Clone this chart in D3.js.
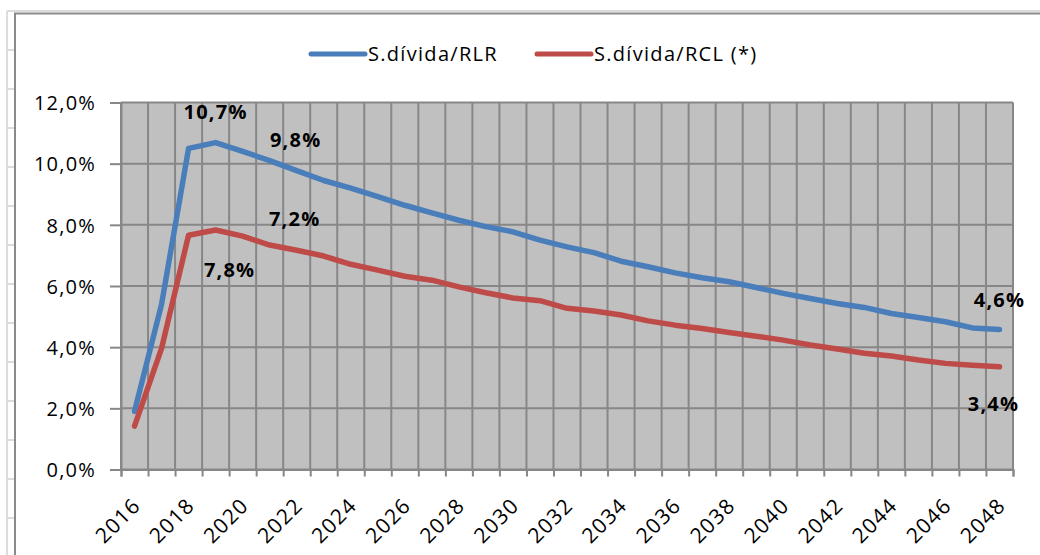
<!DOCTYPE html>
<html><head><meta charset="utf-8">
<script src="https://cdn.jsdelivr.net/npm/d3@7"></script>
<style>body{margin:0;background:#fff;}svg{display:block;}</style>
</head><body>
<svg id="c" width="1040" height="555"></svg>
<script>
const years = d3.range(2016, 2049);
const rlr = [1.9, 5.4, 10.5, 10.69, 10.4, 10.1, 9.77, 9.45, 9.2, 8.92, 8.64, 8.39, 8.15, 7.94, 7.77, 7.5, 7.28, 7.09, 6.81, 6.63, 6.43, 6.27, 6.14, 5.95, 5.76, 5.59, 5.43, 5.3, 5.1, 4.97, 4.83, 4.63, 4.58];
const rcl = [1.42, 3.96, 7.66, 7.83, 7.63, 7.34, 7.17, 6.98, 6.71, 6.52, 6.32, 6.19, 5.97, 5.78, 5.61, 5.52, 5.27, 5.18, 5.05, 4.86, 4.72, 4.61, 4.48, 4.36, 4.23, 4.07, 3.94, 3.8, 3.71, 3.58, 3.47, 3.41, 3.36];
const seriesNames = ["S.dívida/RLR", "S.dívida/RCL (*)"];
const yTicks = [0, 2, 4, 6, 8, 10, 12];
const xLabelYears = d3.range(2016, 2049, 2);

const colors = ["#4a7ebb", "#be4b48"];
const svg = d3.select("#c");
const L = 121, R = 1013, T = 102.5, B = 469.5;
const grid = "#878787";
const font = "'Open Sans', sans-serif";

// surroundings (spreadsheet edge)
svg.append("line").attr("x1", 7).attr("x2", 1040).attr("y1", 11).attr("y2", 11).attr("stroke", "#dcdcdc").attr("stroke-width", 2);
svg.append("line").attr("x1", 7).attr("x2", 7).attr("y1", 11).attr("y2", 555).attr("stroke", "#dcdcdc").attr("stroke-width", 2);
svg.append("g").selectAll("line").data(d3.range(50, 555, 39)).join("line")
  .attr("x1", 7).attr("x2", 14).attr("y1", d => d).attr("y2", d => d).attr("stroke", "#dcdcdc").attr("stroke-width", 2);
svg.append("rect").attr("x", 15).attr("y", 13.5).attr("width", 1100).attr("height", 600)
  .attr("fill", "#fff").attr("stroke", "#8a8a8a").attr("stroke-width", 2);

const x = d3.scaleBand().domain(years).range([L, R]).padding(0);
const xEdge = d3.scaleLinear().domain([2016, 2049]).range([L, R]);
const y = d3.scaleLinear().domain([0, 12]).range([B, T]);
const cx = yr => x(yr) + x.bandwidth() / 2;

// plot area
svg.append("rect").attr("x", L).attr("y", T).attr("width", R - L).attr("height", B - T).attr("fill", "#c0c0c0");
const g = svg.append("g");
g.selectAll("line.v").data(d3.range(2016, 2050)).join("line")
  .attr("x1", d => xEdge(d)).attr("x2", d => xEdge(d)).attr("y1", T).attr("y2", B)
  .attr("stroke", grid).attr("stroke-width", 2);
g.selectAll("line.h").data(yTicks).join("line")
  .attr("x1", L).attr("x2", R).attr("y1", d => y(d)).attr("y2", d => y(d))
  .attr("stroke", grid).attr("stroke-width", 2);

// y axis
const ya = svg.append("g").attr("transform", `translate(${L},0)`)
  .call(d3.axisLeft(y).tickValues(yTicks).tickSize(11).tickPadding(14)
    .tickFormat(d => d.toFixed(1).replace(".", ",") + "%"));
ya.select(".domain").attr("stroke", grid).attr("stroke-width", 2);
ya.selectAll(".tick line").attr("stroke", grid).attr("stroke-width", 2);
ya.selectAll(".tick text").attr("font-family", font).attr("font-size", 20).attr("fill", "#000")
  .attr("letter-spacing", 1.2).attr("dy", "0.36em");

// x axis
const xa = svg.append("g").attr("transform", `translate(0,${B})`)
  .call(d3.axisBottom(xEdge).tickValues(d3.range(2016, 2050)).tickSize(7).tickFormat(""));
xa.select(".domain").attr("stroke", grid).attr("stroke-width", 2);
xa.selectAll(".tick line").attr("stroke", grid).attr("stroke-width", 2);
svg.append("g").selectAll("text").data(xLabelYears).join("text")
  .attr("transform", d => `translate(${cx(d) - 3},${B + 27}) rotate(-45)`)
  .attr("text-anchor", "end").attr("dy", "0.7em")
  .attr("font-family", font).attr("font-size", 21).attr("letter-spacing", 1.3).attr("fill", "#000")
  .text(d => d);

// lines
const line = d3.line().x((d, i) => cx(years[i])).y(d => y(d));
[rlr, rcl].forEach((s, k) => {
  svg.append("path").datum(s).attr("d", line).attr("fill", "none")
    .attr("stroke", colors[k]).attr("stroke-width", 5.5).attr("stroke-linejoin", "round").attr("stroke-linecap", "round");
});

// data labels
const annotations = [
  {s: 0, yr: 2019, dx: 0, dy: -24},
  {s: 0, yr: 2022, dx: -1, dy: -24},
  {s: 1, yr: 2022, dx: -2, dy: -24},
  {s: 1, yr: 2019, dx: 14, dy: 47},
  {s: 0, yr: 2048, dx: 0, dy: -22},
  {s: 1, yr: 2048, dx: -6, dy: 44}
];
const data = [rlr, rcl];
svg.append("g").selectAll("text").data(annotations).join("text")
  .attr("x", d => cx(d.yr) + d.dx)
  .attr("y", d => y(data[d.s][years.indexOf(d.yr)]) + d.dy)
  .attr("text-anchor", "middle").attr("font-family", font).attr("font-weight", "bold")
  .attr("font-size", 20).attr("letter-spacing", 1.2).attr("fill", "#000")
  .text(d => data[d.s][years.indexOf(d.yr)].toFixed(1).replace(".", ",") + "%");

// legend
const leg = [{x: 311, tx: 368}, {x: 537, tx: 594}];
seriesNames.forEach((n, k) => {
  svg.append("line").attr("x1", leg[k].x).attr("x2", leg[k].x + 54).attr("y1", 54).attr("y2", 54)
    .attr("stroke", colors[k]).attr("stroke-width", 5).attr("stroke-linecap", "round");
  svg.append("text").attr("x", leg[k].tx).attr("y", 54).attr("dy", "0.36em")
    .attr("font-family", font).attr("font-size", 20).attr("letter-spacing", 1.3).attr("fill", "#000").text(n);
});
</script>
</body></html>
